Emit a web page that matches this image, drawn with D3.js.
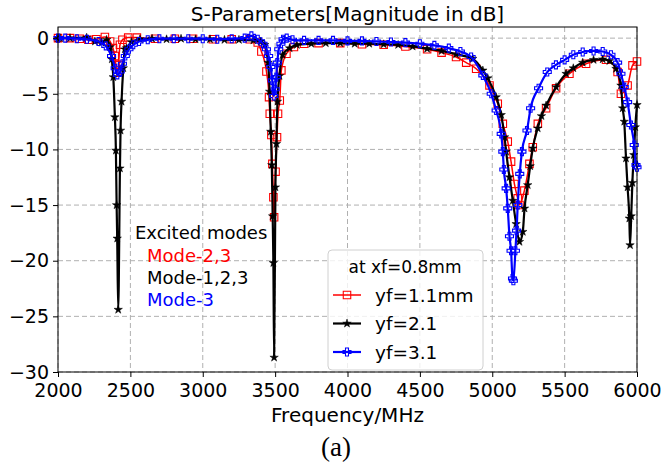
<!DOCTYPE html>
<html>
<head>
<meta charset="utf-8">
<script src="https://cdn.jsdelivr.net/npm/d3@7"></script>
<style>
  body { margin: 0; background: #fff; }
  svg { display: block; }
  text { font-family: "DejaVu Sans", sans-serif; }
</style>
</head>
<body>
<div id="chart"></div>
<script>
// S-parameter curves, [frequency MHz, magnitude dB]
const yf11 = [
  [2000, 0], [2083, 0], [2150, -0.05], [2210, -0.15], [2265, -0.1], [2324, 0.1],
  [2360, -0.3], [2380, -0.9], [2392, -1.6], [2400, -2.4], [2408, -3.1], [2418, -2.4],
  [2428, -0.6], [2445, -0.15], [2485, 0.05], [2545, 0.05], [2670, -0.05], [2807, -0.05],
  [2933, -0.05], [3070, -0.1], [3200, -0.1], [3325, -0.1], [3380, -0.4], [3405, -1.2],
  [3440, -3.0], [3458, -5.3], [3463, -6.8], [3474, -8.7], [3481, -11.3], [3488, -14.3],
  [3493, -16.1], [3503, -12.0], [3513, -8.9], [3520, -6.8], [3532, -5.6], [3543, -2.9],
  [3578, -1.4], [3630, -0.8], [3700, -0.5], [3800, -0.45], [3950, -0.45], [4100, -0.55],
  [4250, -0.6], [4400, -0.75], [4550, -1.0], [4650, -1.3], [4750, -1.7], [4820, -2.2],
  [4889, -2.75], [4981, -4.25], [5038, -5.9], [5073, -7.7], [5107, -9.3], [5130, -11.1],
  [5153, -13.1], [5176, -14.4], [5188, -15.0], [5222, -13.7], [5257, -11.3], [5280, -9.8],
  [5315, -7.7], [5372, -6.3], [5441, -4.5], [5533, -3.2], [5648, -2.3], [5786, -1.95],
  [5866, -3.05], [5889, -5.0], [5935, -4.25], [5969, -2.45], [6000, -2.1]
];
const yf21 = [
  [2000, 0], [2014, 0], [2083, 0], [2198, 0.05], [2255, -0.3], [2301, -0.4], [2336, -0.15],
  [2360, -0.8], [2372, -1.9], [2382, -3.5], [2393, -7.1], [2400, -10.1], [2405, -15.0],
  [2409, -18.0], [2416, -24.4], [2428, -11.7], [2432, -8.3], [2439, -5.7], [2451, -2.7],
  [2462, -1.0], [2474, -0.9], [2508, -0.35], [2566, -0.1], [2650, -0.05], [2750, -0.1],
  [2850, -0.05], [2950, -0.1], [3050, -0.1], [3150, -0.15], [3250, -0.15], [3350, -0.2],
  [3400, -0.3], [3428, -0.6], [3451, -2.2], [3462, -4.8], [3470, -8.4], [3477, -11.4],
  [3483, -16.0], [3488, -20.2], [3493, -28.7], [3502, -13.4], [3509, -9.5], [3516, -5.7],
  [3530, -3.4], [3552, -1.5], [3600, -0.9], [3650, -0.6], [3750, -0.5], [3850, -0.45],
  [3950, -0.45], [4050, -0.5], [4150, -0.5], [4250, -0.55], [4350, -0.6], [4450, -0.75],
  [4550, -0.95], [4650, -1.15], [4750, -1.45], [4865, -1.85], [4935, -2.9], [4969, -3.6],
  [5027, -5.3], [5062, -6.9], [5085, -8.9], [5096, -10.2], [5119, -12.5], [5142, -14.6],
  [5165, -16.7], [5188, -18.3], [5211, -17.4], [5223, -15.3], [5245, -13.2], [5262, -11.5],
  [5280, -9.9], [5314, -8.1], [5340, -7.0], [5372, -6.05], [5441, -4.4], [5510, -3.2],
  [5560, -2.7], [5625, -2.2], [5700, -1.95], [5763, -1.9], [5809, -2.05], [5855, -2.75],
  [5889, -4.25], [5901, -6.3], [5912, -7.5], [5924, -10.8], [5935, -13.4], [5947, -16.2],
  [5952, -18.6], [5960, -16.0], [5968, -13.0], [5978, -10.5], [5988, -8.0], [6000, -6.0]
];
const yf31 = [
  [2000, 0], [2050, 0], [2130, -0.05], [2200, -0.1], [2280, -0.3], [2330, -0.7], [2370, -1.6],
  [2395, -2.7], [2410, -3.3], [2430, -3.0], [2445, -2.3], [2465, -1.6], [2490, -1.0],
  [2520, -0.6], [2560, -0.3], [2620, -0.15], [2700, -0.05], [2800, -0.05], [2900, -0.05],
  [3000, -0.05], [3100, -0.1], [3200, -0.05], [3290, 0], [3336, 0.2], [3380, -0.1],
  [3416, -0.5], [3440, -1.0], [3455, -1.6], [3470, -2.6], [3480, -3.8], [3490, -5.2],
  [3500, -4.6], [3508, -3.5], [3515, -2.2], [3525, -1.0], [3540, -0.5], [3555, -0.1],
  [3580, 0], [3620, -0.15], [3700, -0.2], [3800, -0.2], [3900, -0.2], [4000, -0.25],
  [4100, -0.25], [4200, -0.3], [4300, -0.35], [4400, -0.4], [4500, -0.5], [4600, -0.65],
  [4700, -0.9], [4780, -1.2], [4854, -1.7], [4935, -3.35], [4993, -5.0], [5027, -6.5],
  [5062, -8.6], [5073, -10.2], [5080, -11.8], [5096, -13.5], [5107, -15.3], [5119, -17.8],
  [5130, -19.1], [5140, -21.6], [5146, -21.8], [5160, -19.1], [5168, -17.3], [5176, -15.0],
  [5190, -12.2], [5205, -10.2], [5240, -8.3], [5265, -6.3], [5320, -4.5], [5380, -3.05],
  [5440, -2.4], [5500, -1.95], [5560, -1.5], [5625, -1.25], [5700, -1.15], [5763, -1.2],
  [5820, -1.5], [5866, -2.2], [5889, -3.2], [5912, -4.4], [5935, -5.75], [5958, -7.8],
  [5981, -9.6], [5993, -11.4], [6000, -11.6]
];

const xTicks = [2000, 2500, 3000, 3500, 4000, 4500, 5000, 5500, 6000];
const yTicks = [0, -5, -10, -15, -20, -25, -30];
const legendLabels = ["yf=1.1mm", "yf=2.1", "yf=3.1"];
const modeNotes = ["Mode-2,3", "Mode-1,2,3", "Mode-3"];

const width = 663, height = 467;
const margin = { top: 27, right: 26, bottom: 95, left: 58 };
const plotW = width - margin.left - margin.right;
const plotH = height - margin.top - margin.bottom;

const svg = d3.select("#chart").append("svg")
  .attr("width", width).attr("height", height);

const x = d3.scaleLinear().domain([2000, 6000]).range([0, plotW]);
const y = d3.scaleLinear().domain([-30, 1]).range([plotH, 0]);

const g = svg.append("g").attr("transform", `translate(${margin.left},${margin.top})`);

// grid
g.append("g").selectAll("line").data(xTicks).join("line")
  .attr("x1", d => x(d)).attr("x2", d => x(d))
  .attr("y1", 0).attr("y2", plotH)
  .attr("stroke", "#b0b0b0").attr("stroke-width", 1).attr("stroke-dasharray", "5,3");
g.append("g").selectAll("line").data(yTicks).join("line")
  .attr("x1", 0).attr("x2", plotW)
  .attr("y1", d => y(d)).attr("y2", d => y(d))
  .attr("stroke", "#b0b0b0").attr("stroke-width", 1).attr("stroke-dasharray", "5,3");

// series
const series = [
  { data: yf11, color: "#ff0000", width: 1.5, marker: "square" },
  { data: yf21, color: "#000000", width: 2.2, marker: "star" },
  { data: yf31, color: "#0000ff", width: 2.2, marker: "plus" }
];

const line = d3.line().x(d => x(d[0])).y(d => y(d[1])).curve(d3.curveMonotoneX);

const plusPath = (() => {
  const a = 4, w = 1.5;
  return `M${-w},${-a}H${w}V${-w}H${a}V${w}H${w}V${a}H${-w}V${w}H${-a}V${-w}H${-w}Z`;
})();

function markerPath(type) {
  if (type === "square") return d3.symbol(d3.symbolSquare, 56)();
  if (type === "star") return d3.symbol(d3.symbolStar, 22)();
  return plusPath;
}

function styleMarker(sel, s) {
  if (s.marker === "star") {
    sel.attr("fill", s.color).attr("stroke", s.color).attr("stroke-width", 0.5);
  } else {
    sel.attr("fill", "none").attr("stroke", s.color).attr("stroke-width", 1.1);
  }
}

const plot = g.append("g");
series.forEach(s => {
  plot.append("path").datum(s.data)
    .attr("d", line)
    .attr("fill", "none")
    .attr("stroke", s.color)
    .attr("stroke-width", s.width)
    .attr("stroke-linejoin", "round");
  plot.append("g").selectAll("path").data(s.data).join("path")
    .attr("d", markerPath(s.marker))
    .attr("transform", d => `translate(${x(d[0])},${y(d[1])})`)
    .call(styleMarker, s);
});

// axes
const xAxis = g.append("g").attr("transform", `translate(0,${plotH})`)
  .call(d3.axisBottom(x).tickValues(xTicks).tickFormat(d3.format("d")).tickSizeOuter(0).tickSize(5).tickPadding(7));
const yAxis = g.append("g")
  .call(d3.axisLeft(y).tickValues(yTicks).tickFormat(d => d < 0 ? "\u2212" + Math.abs(d) : d).tickSizeOuter(0).tickSize(5).tickPadding(4));
[xAxis, yAxis].forEach(a => {
  a.select(".domain").remove();
  a.selectAll("text").attr("font-size", 19).attr("fill", "#000").attr("font-family", "DejaVu Sans");
  a.selectAll("line").attr("stroke", "#000").attr("stroke-width", 1);
});
yAxis.selectAll("text").attr("dy", "0.33em");

g.append("rect").attr("width", plotW).attr("height", plotH)
  .attr("fill", "none").attr("stroke", "#000").attr("stroke-width", 1);

// title and labels
svg.append("text").attr("x", margin.left + plotW / 2).attr("y", 21)
  .attr("text-anchor", "middle").attr("font-size", 20).text("S-Parameters[Magnitude in dB]");
svg.append("text").attr("x", margin.left + plotW / 2).attr("y", 422)
  .attr("text-anchor", "middle").attr("font-size", 20).text("Frequency/MHz");
svg.append("text").attr("x", 336).attr("y", 456)
  .attr("text-anchor", "middle").attr("font-size", 27)
  .style("font-family", "'Liberation Serif', 'Times New Roman', serif").text("(a)");

// annotation
svg.append("text").attr("x", 135).attr("y", 239).attr("font-size", 18).text("Excited modes");
svg.append("g").selectAll("text").data(modeNotes).join("text")
  .attr("x", 147).attr("y", (d, i) => 261.5 + i * 22.2)
  .attr("font-size", 18)
  .attr("fill", (d, i) => series[i].color)
  .text(d => d);

// legend
const lg = svg.append("g").attr("transform", "translate(328,250)");
lg.append("rect").attr("width", 155).attr("height", 120).attr("rx", 4)
  .attr("fill", "#fff").attr("fill-opacity", 0.8)
  .attr("stroke", "#d0d0d0").attr("stroke-width", 1);
lg.append("text").attr("x", 77).attr("y", 23).attr("text-anchor", "middle")
  .attr("font-size", 17).text("at xf=0.8mm");
const entries = lg.selectAll(".entry").data(series).join("g")
  .attr("class", "entry")
  .attr("transform", (d, i) => `translate(0,${45 + i * 28.5})`);
entries.append("line").attr("x1", 5).attr("x2", 33)
  .attr("stroke", d => d.color).attr("stroke-width", d => d.width);
entries.append("path").attr("d", d => markerPath(d.marker))
  .attr("transform", "translate(19,0)")
  .each(function (d) { d3.select(this).call(styleMarker, d); });
entries.append("text").attr("x", 47).attr("y", 0).attr("dy", "0.36em")
  .attr("font-size", 18.5).text((d, i) => legendLabels[i]);
</script>
</body>
</html>
